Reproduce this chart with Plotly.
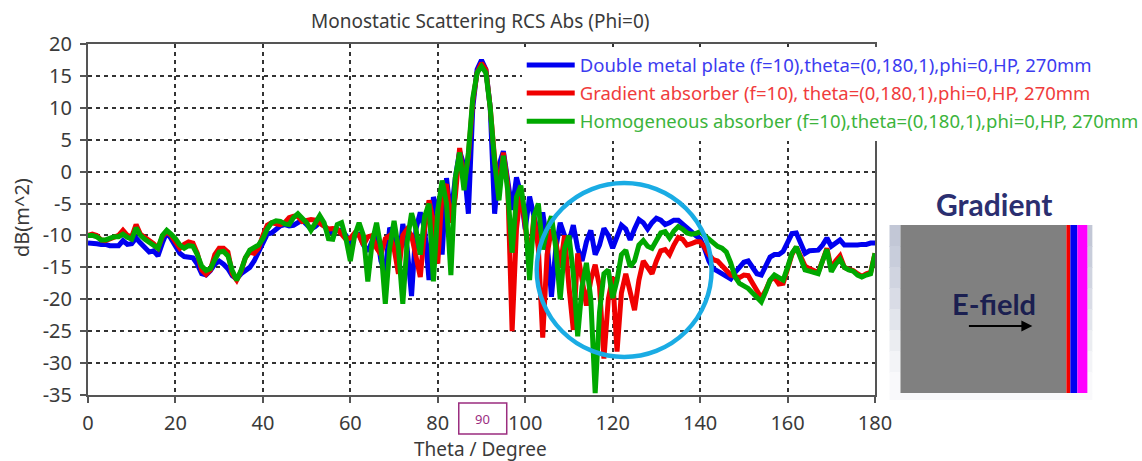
import plotly.graph_objects as go

theta = list(range(0, 181))

double_metal = [
-11.2,-11.2,-11.3,-11.4,-11.4,-11.6,-11.6,-11.6,-10.8,-11.4,-11.3,-10.4,-11.2,-12,-12.6,-12.4,-13.2,-11.2,-9.5,-10.5,
-11.5,-12.8,-13.3,-13.4,-13.5,-14.5,-16,-16.2,-15.5,-14.5,-14,-14.5,-15.2,-16.3,-16.8,-16,-15.4,-15,-14,-12.5,
-11,-9.8,-9.6,-9,-8.5,-8.3,-8.5,-8.4,-8,-7.6,-8.3,-9,-8.6,-8,-8.5,-9.3,-9.5,-9.2,-9.2,-10,
-11.2,-10,-9.8,-11.5,-12.5,-11,-9.2,-14,-15.7,-8.8,-10,-15,-8.2,-12,-19.5,-9,-6.4,-9,-17,-4,
-6,-13,-1,-7,-1,3.2,1,-6.6,10,16,17.5,16,10,-6.6,1,3.2,-1,-6,-0.9,-3.5,
-9,-3.9,-7,-10,-6.4,-11,-19.6,-12,-8,-10,-11,-8.4,-12,-14,-11,-9.2,-13,-11.5,-8.9,-10,
-12,-10,-8.4,-9,-10.7,-9,-7.5,-8,-9,-8,-7.3,-7.6,-8.3,-8,-7.6,-7.6,-8.2,-9,-9.4,-10,
-10.5,-12,-14,-15.2,-15.6,-16,-16.5,-16.8,-15.8,-15,-14.2,-14,-15,-16,-16.2,-14.6,-13.4,-13,-13,-12.5,
-11,-9.7,-9.6,-11,-12.8,-12.4,-12.4,-12.3,-11.5,-10.4,-11.7,-11.2,-10.7,-11.5,-11.5,-11.6,-11.5,-11.4,-11.4,-11.2,
-11.2]

gradient_absorber = [
-10,-9.8,-10,-10.7,-10.8,-10.6,-10.4,-10,-9.2,-10,-10.2,-8.3,-9.8,-10.3,-10.7,-11.3,-12,-10.2,-9.4,-10,
-11,-12,-11.4,-11,-11.2,-12.8,-15.4,-16.1,-15.4,-13,-12,-12,-12.6,-16,-17,-15.6,-13.5,-12.6,-12.8,-12,
-10,-8.4,-8,-8.1,-8.3,-8,-7.2,-7,-7,-7.8,-7.6,-7.5,-7.6,-8,-8.4,-9,-8.9,-9,-9.8,-10.6,
-10.4,-9.6,-10,-11.5,-10.2,-10,-12,-13,-10.5,-10,-12,-16,-10,-9,-10,-13,-16.5,-9,-4.5,-8,
-14.4,-3,-2,-8,-4,3.7,-2,2.5,11,15.5,17,16,10,2,-3,3,-2,-25,-9,-3,
-8,-14,-7,-12,-26,-13,-9,-11,-15,-10,-18,-24.8,-12.8,-17,-21,-17,-14.6,-18,-29.3,-20,
-16.5,-28.2,-19,-16,-18.5,-21.7,-17,-14,-15,-16,-14,-12.4,-12.2,-13,-11.5,-10.3,-10.6,-11.5,-11.3,-11,
-11,-11.8,-13,-13.8,-14,-14.8,-15.6,-16.2,-16.4,-16.6,-16.2,-16.3,-17.5,-18.8,-19.8,-18.6,-17,-16.6,-17.6,-17.5,
-15.5,-13,-11.8,-13.2,-14.8,-15.2,-15.5,-15.8,-14,-12,-15.2,-14,-13.2,-15,-15.3,-15.5,-16,-16.4,-16,-15.8,
-12.8]

homogeneous_absorber = [
-10,-10,-10.2,-10.7,-10.7,-10.4,-10.2,-10.2,-9.8,-10.3,-10.6,-8.8,-10,-10.6,-11,-11.5,-12,-10,-9.2,-9.8,
-10.5,-11.5,-12,-11.6,-11.7,-13,-14.8,-15.5,-15.2,-13.8,-12.6,-12.5,-13.2,-15.5,-17,-15.5,-13.5,-12.3,-11.8,-11.5,
-10.5,-9,-8,-7.7,-7.8,-8.2,-8.3,-7.2,-6.6,-7.2,-8,-9.2,-8,-6.9,-8,-10.5,-10.6,-8.3,-8,-10.5,
-14,-10,-8,-10,-17.2,-11,-8,-12,-20.7,-12,-7.7,-12,-20.7,-11,-6.5,-9,-13,-7,-5,-17.2,
-6,-1.4,-5,-16.2,-1,3,-2.9,3,11.5,15.5,16.5,15.5,10,1.5,-4.5,2.5,-3,-12.7,-4,-2.2,
-7,-17,-7,-5,-12.2,-9,-7,-12,-20,-12,-10,-16,-25.8,-18,-14.3,-20,-34.7,-22,-16,-15.4,
-19.8,-17,-13,-12.3,-14.9,-14,-11.5,-10.8,-11.7,-12,-10.8,-9.6,-9.4,-10.4,-9.3,-8.6,-9,-9.6,-9.8,-9.7,
-9.4,-10,-10.7,-11.2,-11.7,-12,-12.6,-14.3,-16.5,-17.5,-17.9,-18.3,-19,-19.7,-20.4,-18.8,-17,-16.2,-16.7,-17,
-15,-12.8,-11.8,-13.5,-15.4,-15.6,-15.8,-16,-14,-12.2,-15.7,-14.5,-13.7,-15,-15.4,-15.6,-16.2,-16.5,-16.2,-16,
-12.8]

x_ticks = list(range(0, 181, 20))
y_ticks = list(range(-35, 21, 5))
y_tick_labels = [str(v) for v in y_ticks]
series_names = [
    "Double metal plate (f=10),theta=(0,180,1),phi=0,HP, 270mm",
    "Gradient absorber (f=10), theta=(0,180,1),phi=0,HP, 270mm",
    "Homogeneous absorber (f=10),theta=(0,180,1),phi=0,HP, 270mm",
]
series_colors = ["#0000f0", "#f00000", "#00a800"]
text_colors = ["#3c3cf0", "#f03c3c", "#3cb43c"]
series_values = [double_metal, gradient_absorber, homogeneous_absorber]

W, H = 1142, 461
L, R, T, B = 88, 875.5, 44, 395
FONT = "Noto Sans"
TXT = "#3a3a3a"


def px(x):
    return (x - L) / (R - L)


def py(y):
    return (B - y) / (B - T)


fig = go.Figure()
for name, col, tcol, vals in zip(series_names, series_colors, text_colors, series_values):
    fig.add_trace(go.Scatter(
        x=theta, y=vals, mode="lines", legendgroup=name,
        name=f'<span style="color:{tcol}">{name}</span>',
        line=dict(color=col, width=5), cliponaxis=True,
    ))

shapes = []


def rect(x0, y0, x1, y1, fill, line=None, lw=0):
    shapes.append(dict(type="rect", xref="paper", yref="paper",
                       x0=px(x0), x1=px(x1), y0=py(y1), y1=py(y0),
                       fillcolor=fill, line=dict(color=line or fill, width=lw)))


# Highlight circle
shapes.append(dict(type="circle", xref="paper", yref="paper",
                   x0=px(537), x1=px(712), y0=py(357), y1=py(183),
                   line=dict(color="#1aace4", width=4.5)))

# Gradient panel: faded surround
fade = ["#c2c7d6", "#c8cddb", "#d0d4e0", "#d9dce6", "#e2e5ec", "#ebedf1", "#f3f4f7", "#f9f9fb"]
y_top, step = 225, 21
for i, c in enumerate(fade):
    rect(890, y_top + i * step, 901, y_top + (i + 1) * step + 1, c)
    rect(1088, y_top + i * step, 1093, y_top + (i + 1) * step + 1, c)
rect(890, 393, 1093, 400, "#f9f9fb")
rect(901, 225, 1067, 393, "#808080")
rect(1067, 225, 1071, 393, "#f00000")
rect(1071, 225, 1078, 393, "#0000f0")
rect(1078, 225, 1088, 393, "#ff00ff")

# Marker box around 90
rect(459, 403, 507, 434, "#ffffff", "#9b2d7f", 1.5)


def label(x, y, text, size, color=TXT, angle=0, family=FONT):
    return dict(xref="paper", yref="paper", x=px(x), y=py(y), text=text, showarrow=False,
                xanchor="center", yanchor="middle", textangle=angle,
                font=dict(family=family, size=size, color=color))


annotations = [
    label(481, 21, "Monostatic Scattering RCS Abs (Phi=0)", 19),
    label(481, 449, "Theta / Degree", 19),
    label(21, 218, "dB(m^2)", 20, angle=-90),
    label(483, 419, "90", 13, color="#9b2d7f"),
    label(995, 204, "<b>Gradient</b>", 30, color="#2b2f70", family="Lato"),
    label(995, 303, "<b>E-field</b>", 29, color="#1b1f50", family="Lato"),
    dict(xref="paper", yref="paper", x=px(1033), y=py(326), ax=-65, ay=0,
         axref="pixel", ayref="pixel", text="", showarrow=True, arrowhead=2,
         arrowsize=1.1, arrowwidth=2, arrowcolor="#000000"),
]

axis_common = dict(
    showline=True, mirror=True, linecolor="#555555", linewidth=2,
    ticks="outside", ticklen=6, tickwidth=2, tickcolor="#555555",
    showgrid=True, gridcolor="#333333", gridwidth=1.5, griddash="4px,4px",
    zeroline=False, tickfont=dict(family=FONT, size=20, color=TXT),
)

fig.update_layout(
    width=W, height=H, autosize=False,
    margin=dict(l=L, r=W - R, t=T, b=H - B, pad=0, autoexpand=False),
    paper_bgcolor="#ffffff", plot_bgcolor="#ffffff",
    xaxis=dict(range=[0, 180], tickmode="array", tickvals=x_ticks, ticklabelstandoff=3, **axis_common),
    yaxis=dict(range=[-35, 20], tickmode="array", tickvals=y_ticks, ticktext=y_tick_labels,
               ticklabelstandoff=4, **axis_common),
    legend=dict(x=px(522), y=py(46.5), xanchor="left", yanchor="top",
                bgcolor="#ffffff", borderwidth=0, itemwidth=48, tracegroupgap=1,
                font=dict(family=FONT, size=18.5), itemclick=False, itemdoubleclick=False),
    shapes=shapes, annotations=annotations,
)

fig.write_html("out.html", config={"displayModeBar": False},
               post_script="document.body.style.margin='0';document.body.style.overflow='hidden';")
